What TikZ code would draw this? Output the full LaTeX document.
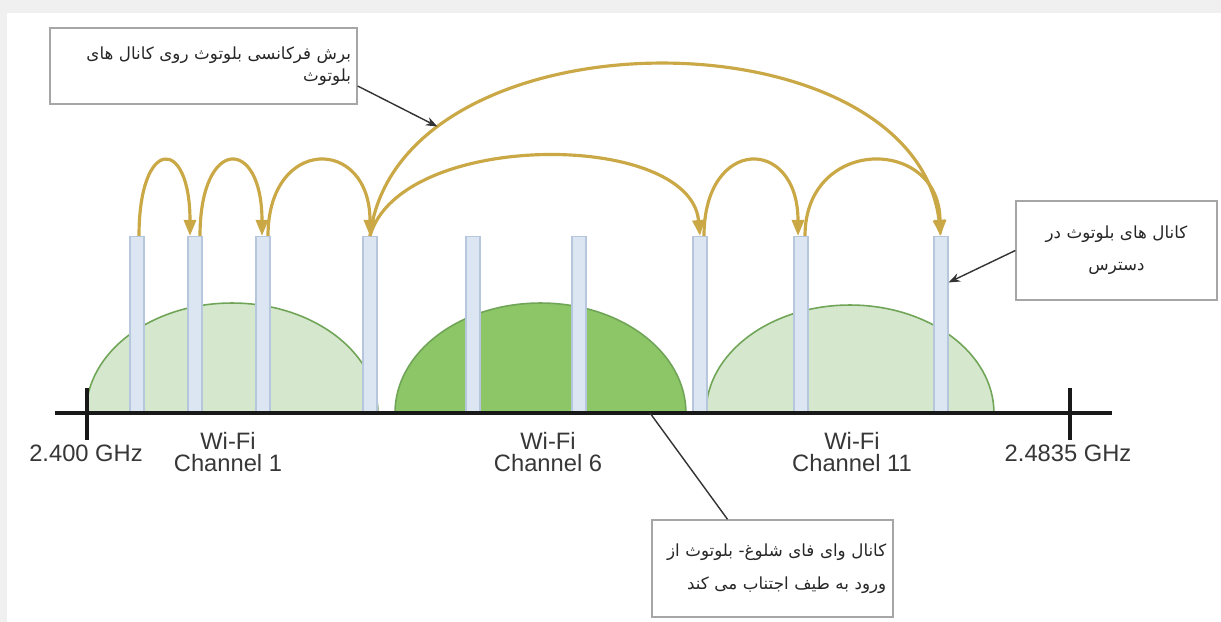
\documentclass[tikz,border=0pt]{standalone}
\usepackage{fontspec}
\setmainfont{Liberation Sans}
\newfontfamily\farsi[Script=Arabic]{DejaVu Sans}
\TeXXeTstate=1
\usepackage{xcolor}
\usetikzlibrary{positioning,arrows.meta}

\definecolor{wifilight}{RGB}{213,232,205}
\definecolor{wifidark}{RGB}{141,198,102}
\definecolor{humpedge}{RGB}{112,165,88}
\definecolor{bandfill}{RGB}{220,230,243}
\definecolor{bandedge}{RGB}{182,198,220}
\definecolor{hopgold}{RGB}{202,168,70}
\definecolor{txtgray}{RGB}{55,55,55}

\begin{document}
\begin{tikzpicture}[
  x=0.02cm, y=-0.02cm,
  band/.style={rectangle, draw=bandedge, fill=bandfill, line width=0.6pt, minimum width=0.28cm, minimum height=3.52cm, inner sep=0pt, anchor=south},
  note/.style={rectangle, draw=gray!70, line width=0.8pt, fill=white, inner sep=0pt, font=\farsi\fontsize{9.5}{12.5}\selectfont, text=black!85},
  lbl/.style={font=\fontsize{13.5}{13}\selectfont, text=txtgray, align=center},
  hop/.style={draw=hopgold, line width=1.8pt, -{Triangle[length=0.32cm,width=0.24cm]}},
  pointer/.style={->, >=Stealth, line width=0.8pt, black!80},
  axisline/.style={line width=1.8pt, black!90}
]

% background
\fill[gray!12] (0,0) rectangle (1221,622);
\fill[white] (7,13) rectangle (1221,622);
\useasboundingbox (0,0) rectangle (1221,622);

% wifi channels
\filldraw[fill=wifilight, draw=humpedge, line width=0.9pt] (86,413) arc[start angle=180, end angle=0, x radius=2.92cm, y radius=2.2cm];
\filldraw[fill=wifidark, draw=humpedge, line width=0.9pt] (395,413) arc[start angle=180, end angle=0, x radius=2.91cm, y radius=2.2cm];
\filldraw[fill=wifilight, draw=humpedge, line width=0.9pt] (706,413) arc[start angle=180, end angle=0, x radius=2.88cm, y radius=2.16cm];

% bluetooth channels
\node[band] (bar1) at (137,413) {};
\node[band] (bar2) at (195,413) {};
\node[band] (bar3) at (263,413) {};
\node[band] (bar4) at (370,413) {};
\node[band] (bar5) at (473,413) {};
\node[band] (bar6) at (579,413) {};
\node[band] (bar7) at (700,413) {};
\node[band] (bar8) at (801,413) {};
\node[band] (bar9) at (941,413) {};

% frequency axis
\draw[axisline] (55,413) -- (1112,413);
\draw[axisline] (87,388) -- (87,440);
\draw[axisline] (1070,388) -- (1070,440);
\coordinate (crowd) at (650,413);

\node[lbl] (flow) at (86,453) {2.400 GHz};
\node[lbl] (fhigh) at (1068,453) {2.4835 GHz};
\node[lbl] (ch1) at (228,452) {Wi-Fi\\Channel 1};
\node[lbl] (ch6) at (548,452) {Wi-Fi\\Channel 6};
\node[lbl] (ch11) at (852,452) {Wi-Fi\\Channel 11};

% hops
\draw[hop] ([xshift=0.04cm]bar1.north) .. controls +(0,-100) and +(0,-100) .. ([xshift=-0.1cm]bar2.north);
\draw[hop] ([xshift=0.1cm]bar2.north) .. controls +(0,-100) and +(0,-100) .. ([xshift=-0.02cm]bar3.north);
\draw[hop] ([xshift=0.1cm]bar3.north) .. controls +(0,-100) and +(0,-100) .. (bar4.north);
\draw[hop] (bar4.north) .. controls +(30,-106) and +(-10,-106) .. (bar7.north);
\draw[hop] (bar4.north) .. controls +(28,-228) and +(-28,-228) .. (bar9.north) coordinate[pos=0.2] (hopmark);
\draw[hop] ([xshift=0.08cm]bar7.north) .. controls +(0,-100) and +(0,-100) .. ([xshift=-0.06cm]bar8.north);
\draw[hop] ([xshift=0.08cm]bar8.north) .. controls +(0,-100) and +(0,-100) .. ([xshift=-0.02cm]bar9.north);

% hopping box
\node[note, minimum width=6.14cm, minimum height=1.52cm, text width=5.9cm, align=right] (hopbox) at (203.5,66) {
  \beginR برش فرکانسی بلوتوث روی کانال های\endR\\
  \beginR بلوتوث\endR\\[4pt]
};
\draw[pointer] ([yshift=-0.4cm]hopbox.east) -- (hopmark);

% available channels box
\node[note, minimum width=4.02cm, minimum height=1.98cm, text width=3.8cm, align=center, font=\farsi\fontsize{9.5}{18}\selectfont] (availbox) at (1116.5,250.5) {
  \beginR کانال های بلوتوث در\endR\\
  \beginR دسترس\endR\\[-4pt]
};
\draw[pointer] (availbox.west) -- ([yshift=0.84cm]bar9.east);

% busy channel box
\node[note, minimum width=4.82cm, minimum height=1.94cm, text width=4.55cm, align=right, font=\farsi\fontsize{9.5}{19}\selectfont] (busybox) at (772.5,568.5) {
  \beginR کانال وای فای شلوغ- بلوتوث از\endR\\
  \beginR ورود به طیف اجتناب می کند\endR
};
\draw[line width=0.8pt, black!80] ([xshift=-0.9cm]busybox.north) -- (crowd);

\end{tikzpicture}
\end{document}
